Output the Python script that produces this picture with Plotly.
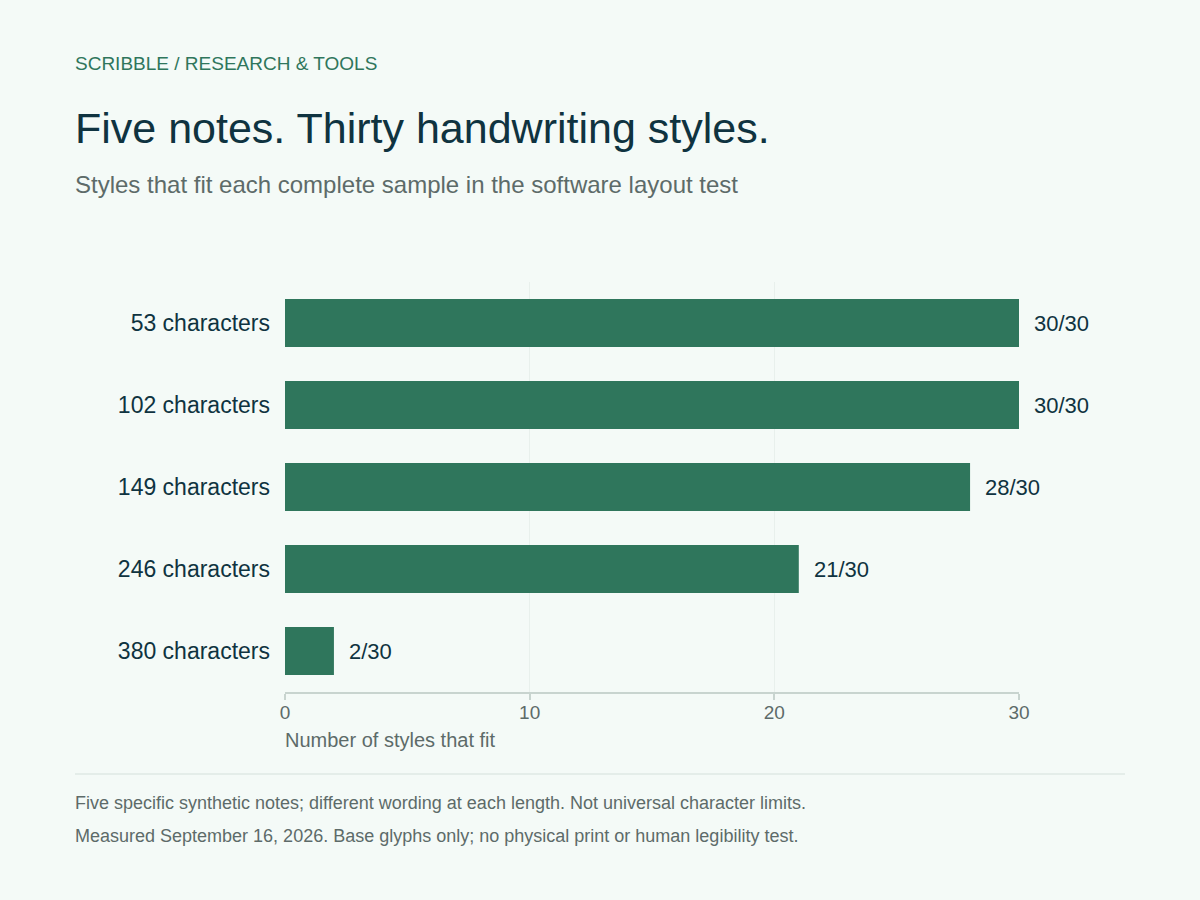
import plotly.graph_objects as go

# data
samples = ["53 characters", "102 characters", "149 characters", "246 characters", "380 characters"]
styles_fit = [30, 30, 28, 21, 2]
total_styles = 30
x_ticks = [0, 10, 20, 30]

GREEN = "#2f765c"
DARK = "#0f3340"
GREY = "#5d6b69"
BG = "#f4faf7"
FONT = "Liberation Sans, Arial, sans-serif"

W, H = 1200, 900
L, R, T, B = 285, 181, 282, 208


def px(x, y):
    # pixel position -> paper coords
    return (x - L) / (W - L - R), (H - B - y) / (H - T - B)


fig = go.Figure()
fig.add_trace(go.Bar(
    x=styles_fit, y=samples, orientation="h",
    marker=dict(color=GREEN, line=dict(width=0)),
    width=0.585, hoverinfo="skip",
))

# value labels next to each bar
for s, v in zip(samples, styles_fit):
    fig.add_annotation(x=v, y=s, xref="x", yref="y", text=f"{v}/{total_styles}",
                       showarrow=False, xanchor="left", xshift=13,
                       font=dict(size=22, color=DARK, family=FONT))

# header / footer texts
texts = [
    (75, 63, "SCRIBBLE / RESEARCH & TOOLS", 19, GREEN),
    (75, 128, "Five notes. Thirty handwriting styles.", 43, DARK),
    (75, 184, "Styles that fit each complete sample in the software layout test", 24, GREY),
    (285, 740, "Number of styles that fit", 20, GREY),
    (75, 803, "Five specific synthetic notes; different wording at each length. Not universal character limits.", 18, GREY),
    (75, 836, "Measured September 16, 2026. Base glyphs only; no physical print or human legibility test.", 18, GREY),
]
for x, y, t, size, col in texts:
    xp, yp = px(x, y)
    fig.add_annotation(x=xp, y=yp, xref="paper", yref="paper", text=t, showarrow=False,
                       xanchor="left", yanchor="middle", xshift=-2,
                       font=dict(size=size, color=col, family=FONT))

x0, y0 = px(75, 774)
x1, _ = px(1125, 774)
fig.add_shape(type="line", xref="paper", yref="paper", x0=x0, x1=x1, y0=y0, y1=y0,
              line=dict(color="#dfe8e4", width=1.5))

fig.update_xaxes(range=[0, 30], tickvals=x_ticks, showgrid=True, gridcolor="#e8f0ec",
                 gridwidth=1, zeroline=False, showline=True, linecolor="#c8d4cf", linewidth=2,
                 ticks="outside", ticklen=6, tickcolor="#c8d4cf", tickwidth=1.5,
                 ticklabelstandoff=-4,
                 tickfont=dict(size=19, color=GREY, family=FONT), fixedrange=True)
fig.update_yaxes(categoryorder="array", categoryarray=samples, autorange="reversed",
                 showgrid=False, zeroline=False, showline=False, ticks="",
                 ticklabelstandoff=14, tickfont=dict(size=23, color=DARK, family=FONT))

fig.update_layout(
    width=W, height=H, margin=dict(l=L, r=R, t=T, b=B, autoexpand=False),
    paper_bgcolor=BG, plot_bgcolor=BG, showlegend=False, bargap=0.4,
    font=dict(family=FONT),
)

fig.write_html("out.html", config={"displayModeBar": False},
               post_script="document.body.style.margin='0';document.body.style.background='" + BG + "';")
